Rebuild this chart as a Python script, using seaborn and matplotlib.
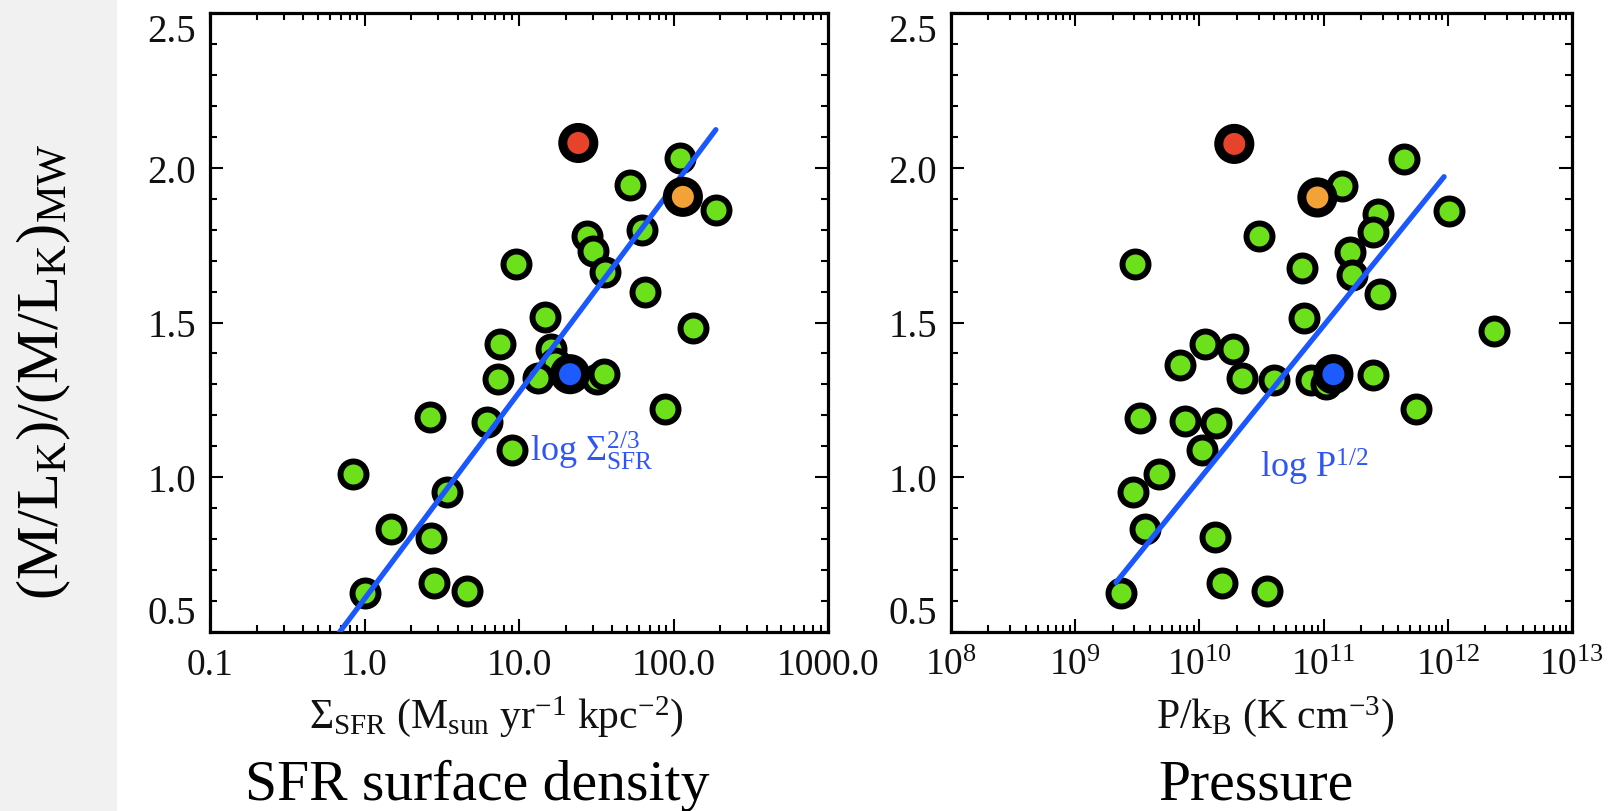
import numpy as np
import pandas as pd
import matplotlib
matplotlib.use("Agg")
import matplotlib.pyplot as plt
import seaborn as sns
from matplotlib.ticker import FixedLocator, LogLocator, MultipleLocator, FixedFormatter, NullFormatter
from matplotlib.patches import Rectangle

# ---------------- data ----------------
# left panel: SFR surface density (Msun/yr/kpc^2) vs (M/L_K)/(M/L_K)_MW
sfr_green = [9.6, 27.5, 30.3, 36.0, 14.7, 7.5, 16.2, 17.0, 7.3, 13.3, 31.9, 35.3,
             110.0, 52.0, 188.0, 63.0, 65.0, 134.0, 2.64, 6.2, 9.0, 88.0,
             0.84, 3.42, 1.48, 2.71, 2.82, 4.62, 1.01]
ml_sfr_green = [1.69, 1.78, 1.73, 1.663, 1.517, 1.43, 1.414, 1.37, 1.317, 1.322, 1.317, 1.333,
                2.032, 1.945, 1.863, 1.80, 1.598, 1.482, 1.195, 1.179, 1.087, 1.222,
                1.011, 0.951, 0.834, 0.804, 0.658, 0.634, 0.627]
sfr_special = [24.2, 115.0, 21.4]
ml_sfr_special = [2.08, 1.906, 1.333]
sfr_line_x = [0.686, 188.0]
sfr_line_y = [0.498, 2.123]

# right panel: pressure P/k_B (K cm^-3)
p_green = [4.47e11, 1.41e11, 2.75e11, 2.51e11, 1.02e12, 3.02e10, 3.05e9, 1.62e11,
           6.76e10, 1.70e11, 2.82e11, 6.92e10, 2.34e12, 1.10e10, 1.86e10, 6.92e9,
           2.19e10, 3.98e10, 7.94e10, 1.05e11, 2.51e11, 5.50e11, 3.34e9, 7.60e9,
           1.35e10, 1.05e10, 4.71e9, 2.92e9, 3.66e9, 1.33e10, 1.51e10, 3.51e10, 2.35e9]
ml_p_green = [2.029, 1.941, 1.849, 1.793, 1.86, 1.779, 1.688, 1.728,
              1.676, 1.655, 1.593, 1.514, 1.474, 1.432, 1.414, 1.362,
              1.322, 1.313, 1.313, 1.30, 1.33, 1.219, 1.192, 1.181,
              1.174, 1.087, 1.011, 0.953, 0.834, 0.807, 0.658, 0.634, 0.627]
p_special = [1.91e10, 8.91e10, 1.20e11]
ml_p_special = [2.077, 1.904, 1.333]
p_line_x = [2.13e9, 9.33e11]
p_line_y = [0.660, 1.971]

special_names = ["red", "orange", "blue"]
special_colors = {"red": "#E5432B", "orange": "#F2A236", "blue": "#1D5BFF"}

y_ticks = [0.5, 1.0, 1.5, 2.0, 2.5]
y_ticklabels = ["0.5", "1.0", "1.5", "2.0", "2.5"]
sfr_ticks = [0.1, 1.0, 10.0, 100.0, 1000.0]
sfr_ticklabels = ["0.1", "1.0", "10.0", "100.0", "1000.0"]
p_ticks = [1e8, 1e9, 1e10, 1e11, 1e12, 1e13]
p_ticklabels = [r"$10^{8}$", r"$10^{9}$", r"$10^{10}$", r"$10^{11}$", r"$10^{12}$", r"$10^{13}$"]

# ---------------- style ----------------
sns.set_theme(style="ticks")
plt.rcParams["font.family"] = ["Liberation Serif", "DejaVu Serif"]
plt.rcParams["mathtext.fontset"] = "custom"
plt.rcParams["mathtext.rm"] = "Liberation Serif"
plt.rcParams["mathtext.it"] = "Liberation Serif:italic"
plt.rcParams["mathtext.bf"] = "Liberation Serif:bold"

GREEN = "#6CE01B"
LINE_BLUE = "#1A57FF"
TEXT_BLUE = "#2F55F5"

W, H = 1610, 812
fig = plt.figure(figsize=(W / 100, H / 100), dpi=100)
fig.patch.set_facecolor("white")
fig.add_artist(Rectangle((0, 0), 117 / W, 1, transform=fig.transFigure,
                         facecolor="#F1F1F1", edgecolor="none", zorder=-5))

def make_ax(x0, x1):
    y_top, y_bot = 14, 633
    return fig.add_axes([x0 / W, 1 - y_bot / H, (x1 - x0) / W, (y_bot - y_top) / H])

ax1 = make_ax(210, 828)
ax2 = make_ax(951, 1572)

def draw_panel(ax, xg, yg, xs, ys, lx, ly, xlim, xticks, xticklabels):
    ax.set_xscale("log")
    sns.scatterplot(x=xg, y=yg, ax=ax, color=GREEN, s=350, edgecolor="black",
                    linewidth=4.3, zorder=2, legend=False)
    sns.lineplot(x=lx, y=ly, ax=ax, color=LINE_BLUE, linewidth=3.8, zorder=3,
                 sort=True, estimator=None)
    df = pd.DataFrame({"x": xs, "y": ys, "kind": special_names})
    sns.scatterplot(data=df, x="x", y="y", hue="kind", palette=special_colors, ax=ax,
                    s=500, edgecolor="black", linewidth=6.5, zorder=4, legend=False)
    ax.set_xlim(*xlim)
    ax.set_ylim(0.5, 2.5)
    ax.set_xlabel("")
    ax.set_ylabel("")
    ax.xaxis.set_major_locator(FixedLocator(xticks))
    ax.xaxis.set_major_formatter(FixedFormatter(xticklabels))
    ax.xaxis.set_minor_locator(LogLocator(base=10, subs=np.arange(2, 10), numticks=20))
    ax.xaxis.set_minor_formatter(NullFormatter())
    ax.yaxis.set_major_locator(FixedLocator(y_ticks))
    ax.yaxis.set_major_formatter(FixedFormatter(y_ticklabels))
    ax.yaxis.set_minor_locator(MultipleLocator(0.1))
    ax.tick_params(which="both", direction="in", top=True, right=True, color="black", width=1.5)
    ax.tick_params(which="major", length=9.5)
    ax.tick_params(which="minor", length=5)
    ax.tick_params(axis="x", which="major", labelsize=27, pad=11, labelcolor="#111111")
    ax.tick_params(axis="y", which="major", labelsize=28, pad=10, labelcolor="#111111")
    for sp in ax.spines.values():
        sp.set_linewidth(2.3)
        sp.set_color("black")
        sp.set_visible(True)
    ax.set_facecolor("white")
    yt = ax.yaxis.get_major_ticks()
    yt[0].label1.set_va("bottom")
    yt[-1].label1.set_va("top")

draw_panel(ax1, sfr_green, ml_sfr_green, sfr_special, ml_sfr_special,
           sfr_line_x, sfr_line_y, (0.1, 1000.0), sfr_ticks, sfr_ticklabels)
draw_panel(ax2, p_green, ml_p_green, p_special, ml_p_special,
           p_line_x, p_line_y, (1e8, 1e13), p_ticks, p_ticklabels)

ax1.text(11.8, 1.055, r"log $\Sigma^{2/3}_{\mathrm{SFR}}$", color=TEXT_BLUE, fontsize=26,
         ha="left", va="baseline", zorder=5)
ax2.text(3.06e10, 1.0, r"log P$^{1/2}$", color=TEXT_BLUE, fontsize=26,
         ha="left", va="baseline", zorder=5)

fig.text(496 / W, 1 - 694 / H,
         r"$\Sigma_{\mathrm{SFR}}$ (M$_{\mathrm{sun}}$ yr$^{-1}$ kpc$^{-2}$)",
         fontsize=30, ha="center", va="top", color="#111111")
fig.text(1275 / W, 1 - 694 / H, r"P/k$_{\mathrm{B}}$ (K cm$^{-3}$)",
         fontsize=30, ha="center", va="top", color="#111111")

fig.text(477 / W, 1 - 786 / H, "SFR surface density", fontsize=41.5,
         ha="center", va="center", color="black")
fig.text(1256 / W, 1 - 786 / H, "Pressure", fontsize=41.5,
         ha="center", va="center", color="black")

fig.text(44 / W, 1 - 372 / H, r"$\mathregular{(M/L_K)/(M/L_K)_{MW}}$", fontsize=43.5,
         rotation=90, ha="center", va="center", color="black")

fig.savefig("out.png", dpi=100, facecolor=fig.get_facecolor())
